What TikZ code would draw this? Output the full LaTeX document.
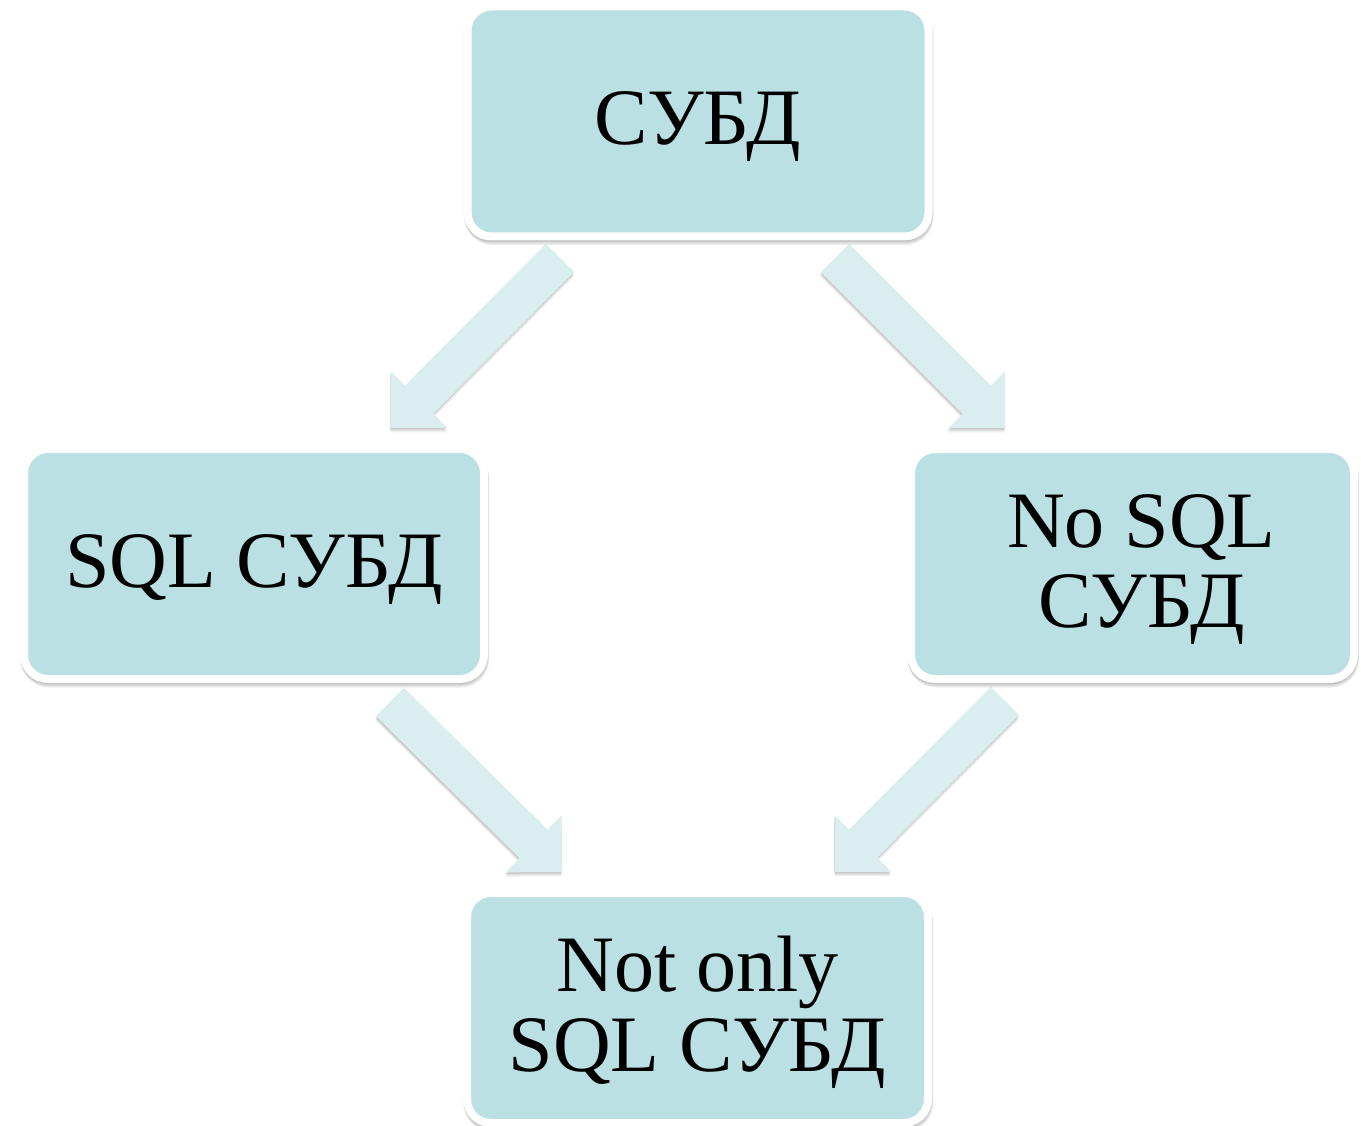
\documentclass[tikz,border=0pt]{standalone}
\usepackage{fontspec}
\setmainfont{Liberation Serif}
\usetikzlibrary{calc}

\definecolor{boxfill}{RGB}{187,224,227}
\definecolor{arrowfill}{RGB}{218,237,239}

\tikzset{
  boxshadow/.style={preaction={draw=black,fill=black,line width=8pt,opacity=0.08,
      transform canvas={shift={(#1)}}}},
  card/.style={rectangle, rounded corners=24pt, fill=boxfill, draw=white,
      line width=8pt, minimum height=230pt, inner sep=0pt,
      font=\fontsize{80}{80}\selectfont,
      boxshadow={0,1.5}, boxshadow={0.5,3}, boxshadow={1,4.5}},
}

% centred lines of a box, set a little low; the optional argument pushes them right
\newcommand\boxtext[2][0pt]{\hspace*{#1}\raisebox{-7pt}[\height][\depth]{%
  \begin{tabular}{@{}c@{}}#2\end{tabular}}}

% broad block arrow from #1 (middle of its tail) to #2 (its tip)
\newcommand\blockarrowpath[2]{%
  ($(#1)!20pt!90:(#2)$) -- ($(hb)!20pt!90:(#2)$) -- ($(hb)!40pt!90:(#2)$) --
  (#2) -- ($(hb)!40pt!-90:(#2)$) -- ($(hb)!20pt!-90:(#2)$) --
  ($(#1)!20pt!-90:(#2)$) -- cycle}
\newcommand\blockarrow[2]{%
  \path coordinate (hb) at ($(#2)!40pt!(#1)$);
  \foreach \dy/\op in {1.5/0.10,3/0.08,4.5/0.05}{%
    \fill[black,opacity=\op,transform canvas={shift={(-0.5,\dy)}}] \blockarrowpath{#1}{#2};}
  \fill[arrowfill] \blockarrowpath{#1}{#2};}

\begin{document}
\begin{tikzpicture}[x=1pt,y=-1pt]
  \useasboundingbox (0,0) rectangle (1361,1126);

  % arrow ends
  \coordinate (a1t) at (560,258);  \coordinate (a1h) at (391,428);
  \coordinate (a2t) at (835,258);  \coordinate (a2h) at (1005,428);
  \coordinate (a3t) at (390,702);  \coordinate (a3h) at (562,872);
  \coordinate (a4t) at (1005,701); \coordinate (a4h) at (835,872);

  \blockarrow{a1t}{a1h}
  \blockarrow{a2t}{a2h}
  \blockarrow{a3t}{a3h}
  \blockarrow{a4t}{a4h}

  % boxes
  \node[card, minimum width=461pt] (dbms)    at (698,121.5)  {\boxtext{СУБД}};
  \node[card, minimum width=460pt] (sql)     at (254,564)    {\boxtext{SQL СУБД}};
  \node[card, minimum width=443pt] (nosql)   at (1132.5,564) {\boxtext[18pt]{No SQL\\СУБД}};
  \node[card, minimum width=461pt] (notonly) at (697.5,1008) {\boxtext{Not only\\SQL СУБД}};
\end{tikzpicture}
\end{document}
